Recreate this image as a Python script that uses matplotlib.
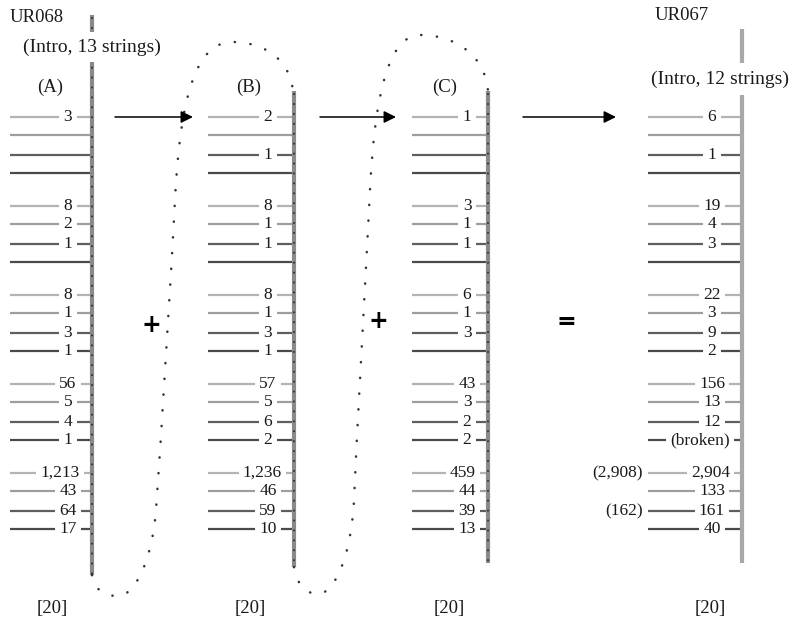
import matplotlib
matplotlib.use("Agg")
import matplotlib.pyplot as plt
from matplotlib.path import Path
from matplotlib.patches import PathPatch, FancyArrowPatch

# ---------------- data ----------------
panel_titles = ["(A)", "(B)", "(C)", ""]
counts_A = [3, None, None, None, 8, 2, 1, None, 8, 1, 3, 1, 56, 5, 4, 1, 1213, 43, 64, 17]
counts_B = [2, None, 1, None, 8, 1, 1, None, 8, 1, 3, 1, 57, 5, 6, 2, 1236, 46, 59, 10]
counts_C = [1, None, None, None, 3, 1, 1, None, 6, 1, 3, None, 43, 3, 2, 2, 459, 44, 39, 13]
counts_D = [6, None, 1, None, 19, 4, 3, None, 22, 3, 9, 2, 156, 13, 12, "(broken)", 2904, 133, 161, 40]
notes_D_rows = [16, 18]
notes_D_vals = [2908, 162]
string_total = ["[20]", "[20]", "[20]", "[20]"]
ms_left = "UR068"
ms_left_sub = "(Intro, 13 strings)"
ms_right = "UR067"
ms_right_sub = "(Intro, 12 strings)"

# ---------------- layout ----------------
W, H = 796, 621
fig = plt.figure(figsize=(W / 100, H / 100), dpi=100)
ax = fig.add_axes([0, 0, 1, 1])
ax.set_xlim(0, W)
ax.set_ylim(H, 0)
ax.axis("off")

FONT = "Liberation Serif"
row_colors = ["#b3b3b3", "#9e9e9e", "#5e5e5e", "#4a4a4a"]
group_top, group_step = 117, 89
row_offsets = [0, 18, 38, 56]

cols = [
    dict(data=counts_A, bar_x=92, left=10, cx=68, top=15, bot=575, dots=True, lab_x=50, tot_x=52),
    dict(data=counts_B, bar_x=294, left=208, cx=268, top=91, bot=567, dots=True, lab_x=249, tot_x=250),
    dict(data=counts_C, bar_x=488, left=412, cx=467, top=91, bot=563, dots=True, lab_x=445, tot_x=449),
    dict(data=counts_D, bar_x=742, left=648, cx=712, top=29, bot=563, dots=False, lab_x=None, tot_x=710),
]


def row_y(i):
    return group_top + group_step * (i // 4) + row_offsets[i % 4]


fig.canvas.draw()
renderer = fig.canvas.get_renderer()

for k, c in enumerate(cols):
    bx = c["bar_x"]
    # vertical bar
    if c["dots"]:
        ax.plot([bx, bx], [c["top"], c["bot"]], color="#8a8a8a", lw=3.0, solid_capstyle="butt", zorder=2)
        ax.plot([bx, bx], [c["top"] + 3, c["bot"]], color="#2e2e2e", lw=1.4,
                linestyle=(0, (0.1, 5.0)), dash_capstyle="round", zorder=2.5)
    else:
        ax.plot([bx, bx], [c["top"], c["bot"]], color="#a8a8a8", lw=3.0, solid_capstyle="butt", zorder=2)
    # strings
    for i, v in enumerate(c["data"]):
        y = row_y(i)
        ax.plot([c["left"], bx - 1], [y, y], color=row_colors[i % 4], lw=1.6,
                solid_capstyle="butt", zorder=1)
        if v is None:
            continue
        s = v if isinstance(v, str) else f"{v:,}"
        t = ax.text(c["cx"], y, s, ha="center", va="center", family=FONT, fontsize=12.5,
                    color="#1a1a1a", zorder=4,
                    bbox=dict(boxstyle="square,pad=0.25", fc="white", ec="none"))
        ext = t.get_window_extent(renderer)
        right_px = ext.x1
        limit = bx - 12
        if right_px > limit:
            t.set_x(c["cx"] - (right_px - limit))
    if c["lab_x"] is not None:
        ax.text(c["lab_x"], 87, panel_titles[k], ha="center", va="center", family=FONT,
                fontsize=13.5, color="#1a1a1a")
    ax.text(c["tot_x"], 608, string_total[k], ha="center", va="center", family=FONT,
            fontsize=13.5, color="#1a1a1a")

# side notes for UR067
for r, v in zip(notes_D_rows, notes_D_vals):
    ax.text(cols[3]["left"] - 5, row_y(r), f"({v:,})", ha="right", va="center", family=FONT,
            fontsize=12.5, color="#1a1a1a")

# titles
ax.text(10, 17, ms_left, ha="left", va="center", family=FONT, fontsize=13.5, color="#1a1a1a")
ax.text(92, 47, ms_left_sub, ha="center", va="center", family=FONT, fontsize=14, color="#1a1a1a",
        zorder=5, bbox=dict(boxstyle="square,pad=0.35", fc="white", ec="none"))
ax.text(655, 16, ms_right, ha="left", va="center", family=FONT, fontsize=13.5, color="#1a1a1a")
ax.text(720, 79, ms_right_sub, ha="center", va="center", family=FONT, fontsize=14, color="#1a1a1a",
        zorder=5, bbox=dict(boxstyle="square,pad=0.4", fc="white", ec="none"))

# arrows
for x0, x1 in [(115, 193), (320, 396), (523, 616)]:
    ax.add_patch(FancyArrowPatch((x0, 117), (x1, 117), arrowstyle="-|>", mutation_scale=18,
                                 lw=1.1, color="black", shrinkA=0, shrinkB=0, zorder=6))

# operators
ax.text(151, 325, "+", ha="center", va="center", family="DejaVu Sans", fontweight="bold",
        fontsize=17, color="black", zorder=6)
ax.text(378, 321, "+", ha="center", va="center", family="DejaVu Sans", fontweight="bold",
        fontsize=17, color="black", zorder=6)
ax.text(566, 322, "=", ha="center", va="center", family="DejaVu Sans", fontweight="bold",
        fontsize=17, color="black", zorder=6)

# dotted connectors
C4 = Path.CURVE4


def connector(pts):
    verts = [pts[0]]
    codes = [Path.MOVETO]
    for seg in pts[1:]:
        verts.extend(seg)
        codes.extend([C4, C4, C4])
    p = PathPatch(Path(verts, codes), fill=False, edgecolor="#333333", lw=1.8,
                  linestyle=(0, (0.1, 6.2)), zorder=3)
    p.set_capstyle("round")
    ax.add_patch(p)


connector([(92, 575),
           [(95, 592), (106, 596), (118, 596)],
           [(135, 596), (152, 560), (156, 510)],
           [(161, 440), (172, 260), (175, 200)],
           [(180, 100), (195, 42), (232, 42)],
           [(265, 42), (290, 60), (293, 91)]])
connector([(294, 567),
           [(297, 586), (307, 594), (318, 594)],
           [(333, 594), (351, 560), (354, 500)],
           [(357, 430), (366, 270), (370, 190)],
           [(374, 110), (385, 35), (420, 35)],
           [(455, 35), (485, 55), (488, 91)]])

fig.savefig("out.png", dpi=100, facecolor="white")
